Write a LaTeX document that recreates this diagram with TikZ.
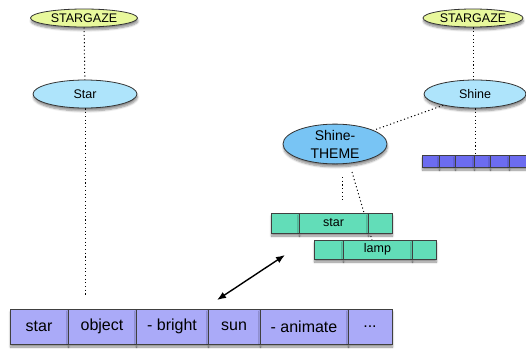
\documentclass[tikz,border=0pt]{standalone}
\usepackage{fontspec}
\setmainfont{Liberation Sans}
\usetikzlibrary{shapes.geometric,shadows.blur,arrows.meta,backgrounds}

\definecolor{gazeyellow}{HTML}{E8F89C}
\definecolor{starblue}{HTML}{AEE4FB}
\definecolor{themeblue}{HTML}{78C4F4}
\definecolor{rowblue}{HTML}{6C6CF0}
\definecolor{cellblue}{HTML}{AAAAF8}
\definecolor{cellteal}{HTML}{62DDB8}

\tikzset{
	softshadow/.style={blur shadow={shadow xshift=0.5pt,shadow yshift=-3pt,shadow blur steps=6,shadow opacity=45}},
	bubble/.style={ellipse,draw=black!80,line width=0.8pt,inner sep=0pt,softshadow},
	cell/.style={rectangle,draw=black!75,line width=0.8pt,inner sep=0pt,outer sep=0pt,softshadow},
	link/.style={dash pattern=on 1.1pt off 2.6pt,line width=1pt},
}

\begin{document}
\begin{tikzpicture}[x=1pt,y=-1pt]
	\useasboundingbox (0,0) rectangle (526,348);
	\clip (0,0) rectangle (526,348);

	% ellipses
	\begin{scope}[every node/.style={bubble,font=\fontsize{12.5}{14}\selectfont}]
		\node[fill=gazeyellow,minimum width=107pt,minimum height=18pt] (gazeL) at (84,18) {STARGAZE};
		\node[fill=starblue,minimum width=104pt,minimum height=28pt] (star) at (85,94) {Star};
		\node[fill=gazeyellow,minimum width=100pt,minimum height=18pt] (gazeR) at (473,18) {STARGAZE};
		\node[fill=starblue,minimum width=102pt,minimum height=28pt] (shine) at (475,94) {Shine};
		\node[fill=themeblue,minimum width=104pt,minimum height=38pt,align=center,font=\fontsize{14}{18}\selectfont] (theme) at (335,144) {Shine-\\THEME};
	\end{scope}

	% right row
	\begin{scope}[every node/.style={cell,fill=rowblue,minimum height=12pt}]
		\node[minimum width=17pt] (r1) at (430.5,161) {};
		\node[minimum width=16pt] (r2) at (447,161) {};
		\node[minimum width=19pt] (r3) at (464.5,161) {};
		\node[minimum width=16pt] (r4) at (482,161) {};
		\node[minimum width=19pt] (r5) at (499.5,161) {};
		\node[minimum width=22pt] (r6) at (520,161) {};
	\end{scope}

	% teal rows
	\begin{scope}[every node/.style={cell,fill=cellteal,font=\fontsize{12.5}{14}\selectfont}]
		\node[minimum width=28pt,minimum height=20pt] (starA) at (285,223) {};
		\node[minimum width=69pt,minimum height=20pt] (starB) at (333.5,223) {star};
		\node[minimum width=24pt,minimum height=20pt] (starC) at (380,223) {};
		\node[minimum width=29pt,minimum height=19pt] (lampA) at (328.5,249.5) {};
		\node[minimum width=69pt,minimum height=19pt] (lampB) at (377.5,249.5) {lamp};
		\node[minimum width=24pt,minimum height=19pt] (lampC) at (424,249.5) {};
	\end{scope}

	% bottom row
	\begin{scope}[every node/.style={cell,fill=cellblue,minimum height=35pt,font=\fontsize{16}{18}\selectfont}]
		\node[minimum width=58pt] (bStar) at (39,326.5) {star};
		\node[minimum width=68pt] (bObject) at (102,326.5) {object};
		\node[minimum width=72pt] (bBright) at (172,326.5) {- bright};
		\node[minimum width=52pt] (bSun) at (234,326.5) {sun};
		\node[minimum width=88pt] (bAnimate) at (304,326.5) {- animate};
		\node[minimum width=44pt] (bDots) at (370,326.5) {...};
	\end{scope}

	\coordinate (starEnd) at (85,296);
	\coordinate (themeA) at (342,177);
	\coordinate (themeAEnd) at (342,200);
	\coordinate (themeB) at (352,172);
	\coordinate (arrLow) at (217,300);
	\coordinate (arrHigh) at (285,255);

	% dotted links, behind the boxes
	\begin{scope}[on background layer]
		\draw[link] (gazeL) -- (star);
		\draw[link] (star.south) -- (starEnd);
		\draw[link] (gazeR.south) -- (gazeR.south |- shine.north);
		\draw[link] (shine) -- (theme);
		\draw[link] (shine.south) -- (shine.south |- r4.north);
		\draw[link] (themeA) -- (themeAEnd);
		\draw[link] (themeB) -- ([xshift=-5.5pt]lampB.north);
	\end{scope}

	\draw[{Latex[length=9pt,width=7pt]}-{Latex[length=9pt,width=7pt]},line width=1.4pt] (arrLow) -- (arrHigh);
\end{tikzpicture}
\end{document}
